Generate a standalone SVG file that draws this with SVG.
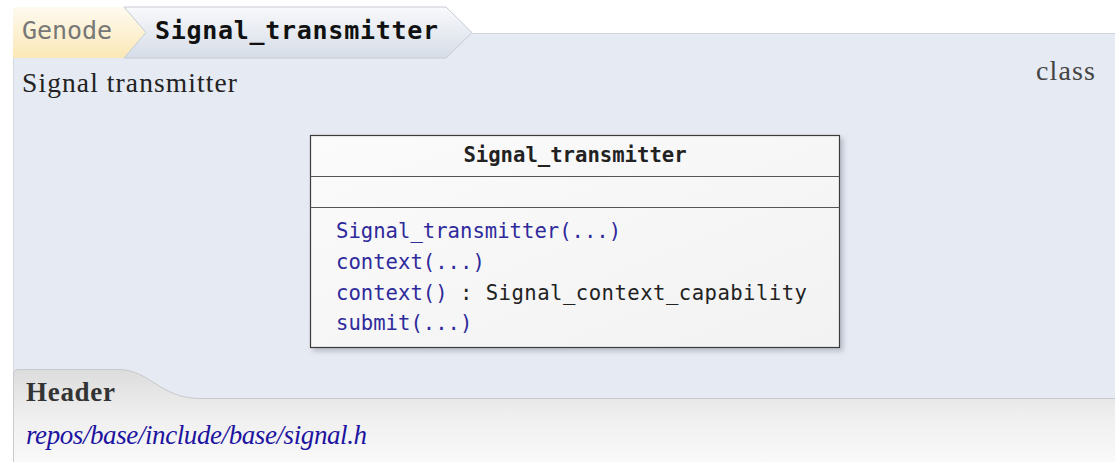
<svg xmlns="http://www.w3.org/2000/svg" width="1115" height="462" viewBox="0 0 1115 462">
  <defs>
    <linearGradient id="gYellow" x1="0" y1="0" x2="0" y2="1">
      <stop offset="0" stop-color="#fefaf0"/>
      <stop offset="1" stop-color="#fbe8b6"/>
    </linearGradient>
    <linearGradient id="gTab" x1="0" y1="0" x2="0" y2="1">
      <stop offset="0" stop-color="#f8f9fb"/>
      <stop offset="1" stop-color="#d6dde8"/>
    </linearGradient>
    <linearGradient id="gFoot" x1="0" y1="0" x2="0" y2="1">
      <stop offset="0" stop-color="#dcdcdc"/>
      <stop offset="0.5" stop-color="#efefef"/>
      <stop offset="1" stop-color="#f9f9f9"/>
    </linearGradient>
    <linearGradient id="gBox" x1="0" y1="0" x2="1" y2="1">
      <stop offset="0" stop-color="#fbfbfb"/>
      <stop offset="1" stop-color="#f2f2f2"/>
    </linearGradient>
    <filter id="shadow" x="-5%" y="-5%" width="115%" height="120%">
      <feDropShadow dx="3" dy="3" stdDeviation="2.5" flood-color="#7a8090" flood-opacity="0.45"/>
    </filter>
  </defs>
  <style>
    .serif { font-family: "Liberation Serif", "DejaVu Serif", serif; }
    .mono { font-family: "DejaVu Sans Mono", "Liberation Mono", monospace; font-size: 20.6px; }
    .method { fill: #2f2a9c; }
    .plain { fill: #222222; }
    .crumb { font-family: "DejaVu Sans Mono", "Liberation Mono", monospace; font-size: 25px; }
  </style>

  <!-- main panel -->
  <g id="panel">
    <path d="M13,33 L1115,33 L1115,462 L13,462 Z" fill="#e6eaf2"/>
    <path d="M472,33.5 L1115,33.5" stroke="#d3d6dc" stroke-width="1" fill="none"/>
    <path d="M13.5,33 L13.5,458" stroke="#d6d9df" stroke-width="1" fill="none"/>
    <path d="M13,462 L13,374 Q13,369 19,369 L118,369 C150,369 160,398 200,398 L1115,398 L1115,462 Z" fill="url(#gFoot)"/>
    <path d="M13.5,462 L13.5,374 Q13.5,369.5 19,369.5 L118,369.5 C150,369.5 160,398.5 200,398.5 L1115,398.5" stroke="#c8cace" stroke-width="1" fill="none"/>
    <text class="serif" x="22" y="92" font-size="27.5" fill="#222222" textLength="215" lengthAdjust="spacing">Signal transmitter</text>
    <text class="serif" x="1036" y="80" font-size="28" fill="#444444" textLength="59" lengthAdjust="spacing">class</text>
    <text class="serif" x="26" y="401" font-size="27" font-weight="bold" fill="#333333" textLength="89" lengthAdjust="spacing">Header</text>
    <text class="serif" x="26" y="444" font-size="27" font-style="italic" fill="#1d14a0" textLength="341" lengthAdjust="spacing">repos/base/include/base/signal.h</text>
  </g>

  <!-- breadcrumb -->
  <g id="crumb-genode">
    <path d="M13,7 L124,7 L146,32.5 L124,58 L13,58 Z" fill="url(#gYellow)"/>
    <text class="crumb" x="22" y="39" fill="#777777" textLength="90" lengthAdjust="spacing">Genode</text>
  </g>
  <g id="crumb-signal-transmitter">
    <path d="M124,7 L446,7 L472,32.5 L446,58 L124,58 L146,32.5 Z" fill="url(#gTab)" stroke="#c6cbd3" stroke-width="1"/>
    <text class="crumb" x="155" y="39" font-weight="bold" fill="#111111" textLength="283" lengthAdjust="spacing">Signal_transmitter</text>
  </g>

  <!-- class node -->
  <g id="node-signal-transmitter">
    <rect x="310.5" y="135.5" width="529" height="212" fill="url(#gBox)" stroke="#3a3a3a" stroke-width="1.2" filter="url(#shadow)"/>
    <line x1="310.5" y1="176.5" x2="839.5" y2="176.5" stroke="#555555" stroke-width="1.2"/>
    <line x1="310.5" y1="207.5" x2="839.5" y2="207.5" stroke="#555555" stroke-width="1.2"/>
    <text class="mono plain" x="575" y="162" text-anchor="middle" font-weight="bold">Signal_transmitter</text>
    <text class="mono method" x="336" y="238">Signal_transmitter(...)</text>
    <text class="mono method" x="336" y="269">context(...)</text>
    <text class="mono method" x="336" y="299.5">context()</text>
    <text class="mono plain" x="460" y="299.5" textLength="347" lengthAdjust="spacing">: Signal_context_capability</text>
    <text class="mono method" x="336" y="330">submit(...)</text>
  </g>

  <g id="connectors"/>
</svg>
